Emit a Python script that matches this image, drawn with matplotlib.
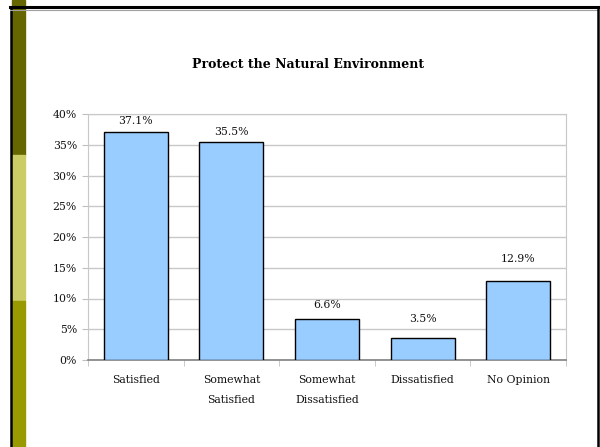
import numpy as np
import matplotlib.pyplot as plt
from matplotlib.patches import Rectangle

categories = ['Satisfied', 'Somewhat\nSatisfied', 'Somewhat\nDissatisfied', 'Dissatisfied', 'No Opinion']
values = [37.1, 35.5, 6.6, 3.5, 12.9]
labels = ['37.1%', '35.5%', '6.6%', '3.5%', '12.9%']
yticks = [0, 5, 10, 15, 20, 25, 30, 35, 40]

# gap between bar top and label centre, in pixels (labels sit unevenly in the original)
label_gap_px = [11, 10, 14, 19, 22]

plt.rcParams['font.family'] = ['DejaVu Serif']
FS = 7.8
TXT = '#111111'

W, H = 600, 447
fig = plt.figure(figsize=(6, 4.47), dpi=100)

def fx(px):
    return px / W

def fy(py):
    return 1 - py / H

# slide decorations
fig.patches.append(Rectangle((fx(12), fy(155)), fx(13), 1 - fy(155), transform=fig.transFigure, color='#666600', zorder=0))
fig.patches.append(Rectangle((fx(12), fy(301)), fx(13), fy(155) - fy(301), transform=fig.transFigure, color='#CCCC66', zorder=0))
fig.patches.append(Rectangle((fx(12), 0), fx(13), fy(301), transform=fig.transFigure, color='#999900', zorder=0))
fig.add_artist(plt.Line2D([fx(11), fx(11)], [0, fy(7)], transform=fig.transFigure, color='black', lw=1.8))
fig.add_artist(plt.Line2D([fx(10), fx(599)], [fy(7), fy(7)], transform=fig.transFigure, color='black', lw=2.2))
fig.add_artist(plt.Line2D([fx(10), fx(597)], [fy(9.5), fy(9.5)], transform=fig.transFigure, color='#a0a0a0', lw=0.8))
fig.add_artist(plt.Line2D([fx(598), fx(598)], [0, fy(7)], transform=fig.transFigure, color='black', lw=1.8))

ax = fig.add_axes([fx(88), fy(360), fx(566 - 88), fy(114) - fy(360)])
x = np.arange(len(categories))
ax.bar(x, values, width=0.67, color='#99CCFF', edgecolor='black', linewidth=1.0, zorder=3)
for xi, v, lab, gap in zip(x, values, labels, label_gap_px):
    ax.annotate(lab, (xi, v), xytext=(0, gap * 0.72), textcoords='offset points', ha='center', va='center',
                fontsize=FS, color=TXT)

ax.set_xlim(-0.5, len(categories) - 0.5)
ax.set_ylim(0, 40)
ax.set_yticks(yticks)
ax.set_yticklabels([f'{t}%' for t in yticks], fontsize=FS, color=TXT)
ax.yaxis.grid(True, color='#c8c8c8', lw=1.0, zorder=0)
ax.set_xticks(x)
ax.set_xticklabels(categories, fontsize=FS, color=TXT, linespacing=2.25, va='top')
ax.set_xticks(np.arange(-0.5, len(categories)), minor=True)
ax.tick_params(axis='x', which='major', length=0, pad=11)
ax.tick_params(axis='x', which='minor', length=4, color='#c0c0c0')
ax.tick_params(axis='y', length=4, color='#c0c0c0', pad=4)
for s in ['top', 'right', 'left']:
    ax.spines[s].set_color('#c8c8c8')
ax.spines['bottom'].set_color('#808080')
ax.spines['bottom'].set_linewidth(1.2)

fig.text(fx(308), fy(64), 'Protect the Natural Environment', ha='center', va='center',
         fontsize=9.0, fontweight='bold')

fig.savefig('out.png', dpi=100)
